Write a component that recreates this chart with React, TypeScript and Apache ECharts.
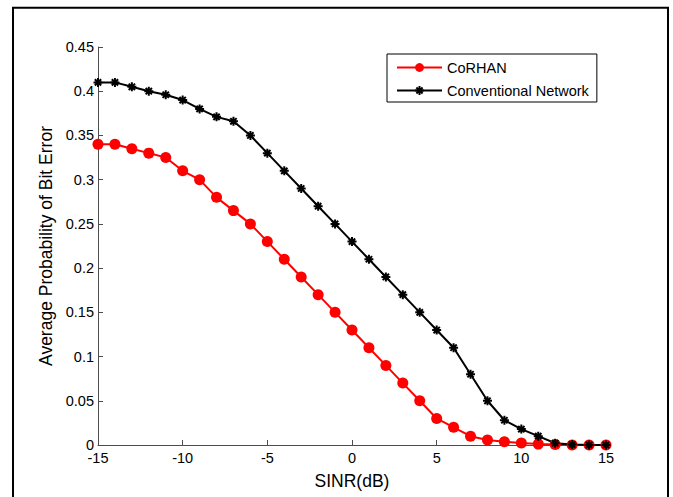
import React, { useEffect, useRef } from "react";
import * as echarts from "echarts";

const sinr = [-15, -14, -13, -12, -11, -10, -9, -8, -7, -6, -5, -4, -3, -2, -1, 0, 1, 2, 3, 4, 5, 6, 7, 8, 9, 10, 11, 12, 13, 14, 15];
const corhan = [0.34, 0.34, 0.335, 0.33, 0.325, 0.31, 0.3, 0.28, 0.265, 0.25, 0.23, 0.21, 0.19, 0.17, 0.15, 0.13, 0.11, 0.09, 0.07, 0.05, 0.03, 0.02, 0.01, 0.0056, 0.0037, 0.0022, 0.001, 0.0005, 0, 0, 0];
const conventional = [0.41, 0.41, 0.405, 0.4, 0.396, 0.39, 0.38, 0.371, 0.366, 0.35, 0.33, 0.31, 0.29, 0.27, 0.25, 0.23, 0.21, 0.19, 0.17, 0.15, 0.13, 0.11, 0.08, 0.05, 0.028, 0.018, 0.01, 0.002, 0.0005, 0, 0];
const seriesNames = ["CoRHAN", "Conventional Network"];
const xTitle = "SINR(dB)";
const yTitle = "Average Probability of Bit Error";

const FONT = "'Liberation Sans', Arial, sans-serif";
const ASTERISK = "path://M5 0L5 10M0 5L10 5M1.5 1.5L8.5 8.5M1.5 8.5L8.5 1.5";

export default function App() {
  const ref = useRef<HTMLDivElement>(null);
  useEffect(() => {
    if (!ref.current) return;
    const chart = echarts.init(ref.current, null, { renderer: "svg" });
    const axisColor = "#4d4d4d";
    chart.setOption({
      animation: false,
      backgroundColor: "#fff",
      textStyle: { fontFamily: FONT },
      grid: { left: 98, right: 67, top: 47, bottom: 52, containLabel: false },
      legend: {
        orient: "vertical",
        left: 387,
        top: 54,
        padding: [6, 8, 4, 9],
        itemWidth: 45,
        itemHeight: 11,
        itemGap: 8,
        borderColor: "#000",
        borderWidth: 1,
        textStyle: { fontSize: 14.5, color: "#000", fontFamily: FONT },
        data: seriesNames,
      },
      xAxis: {
        type: "value",
        min: -15,
        max: 15,
        interval: 5,
        name: xTitle,
        nameLocation: "middle",
        nameGap: 27,
        nameTextStyle: { fontSize: 17.5, color: "#000", fontFamily: FONT },
        axisLine: { onZero: false, lineStyle: { color: axisColor, width: 1 } },
        axisTick: { inside: true, length: 5, lineStyle: { color: axisColor } },
        axisLabel: { fontSize: 14.5, color: "#000", margin: 5, fontFamily: FONT },
        splitLine: { show: false },
      },
      yAxis: {
        type: "value",
        min: 0,
        max: 0.45,
        interval: 0.05,
        name: yTitle,
        nameLocation: "middle",
        nameGap: 41,
        nameTextStyle: { fontSize: 17.5, color: "#000", fontFamily: FONT },
        axisLine: { show: true, onZero: false, lineStyle: { color: axisColor, width: 1 } },
        axisTick: { show: true, inside: true, length: 5, lineStyle: { color: axisColor } },
        axisLabel: { fontSize: 14.5, color: "#000", margin: 4, fontFamily: FONT },
        splitLine: { show: false },
      },
      series: [
        {
          name: seriesNames[0],
          type: "line",
          data: sinr.map((x, i) => [x, corhan[i]]),
          symbol: "circle",
          symbolSize: 11,
          lineStyle: { color: "#ff0000", width: 2 },
          itemStyle: { color: "#ff0000" },
        },
        {
          name: seriesNames[1],
          type: "line",
          data: sinr.map((x, i) => [x, conventional[i]]),
          symbol: ASTERISK,
          symbolSize: 9,
          lineStyle: { color: "#000", width: 2 },
          itemStyle: { color: "#000", borderColor: "#000", borderWidth: 2 },
        },
      ],
      graphic: [
        {
          type: "rect",
          shape: { x: 13, y: 7.7, width: 655, height: 520 },
          style: { fill: "none", stroke: "#000", lineWidth: 2 },
          silent: true,
        },
      ],
    });
    return () => chart.dispose();
  }, []);
  return <div ref={ref} style={{ position: "fixed", left: 0, top: 0, width: 673, height: 497 }} />;
}
